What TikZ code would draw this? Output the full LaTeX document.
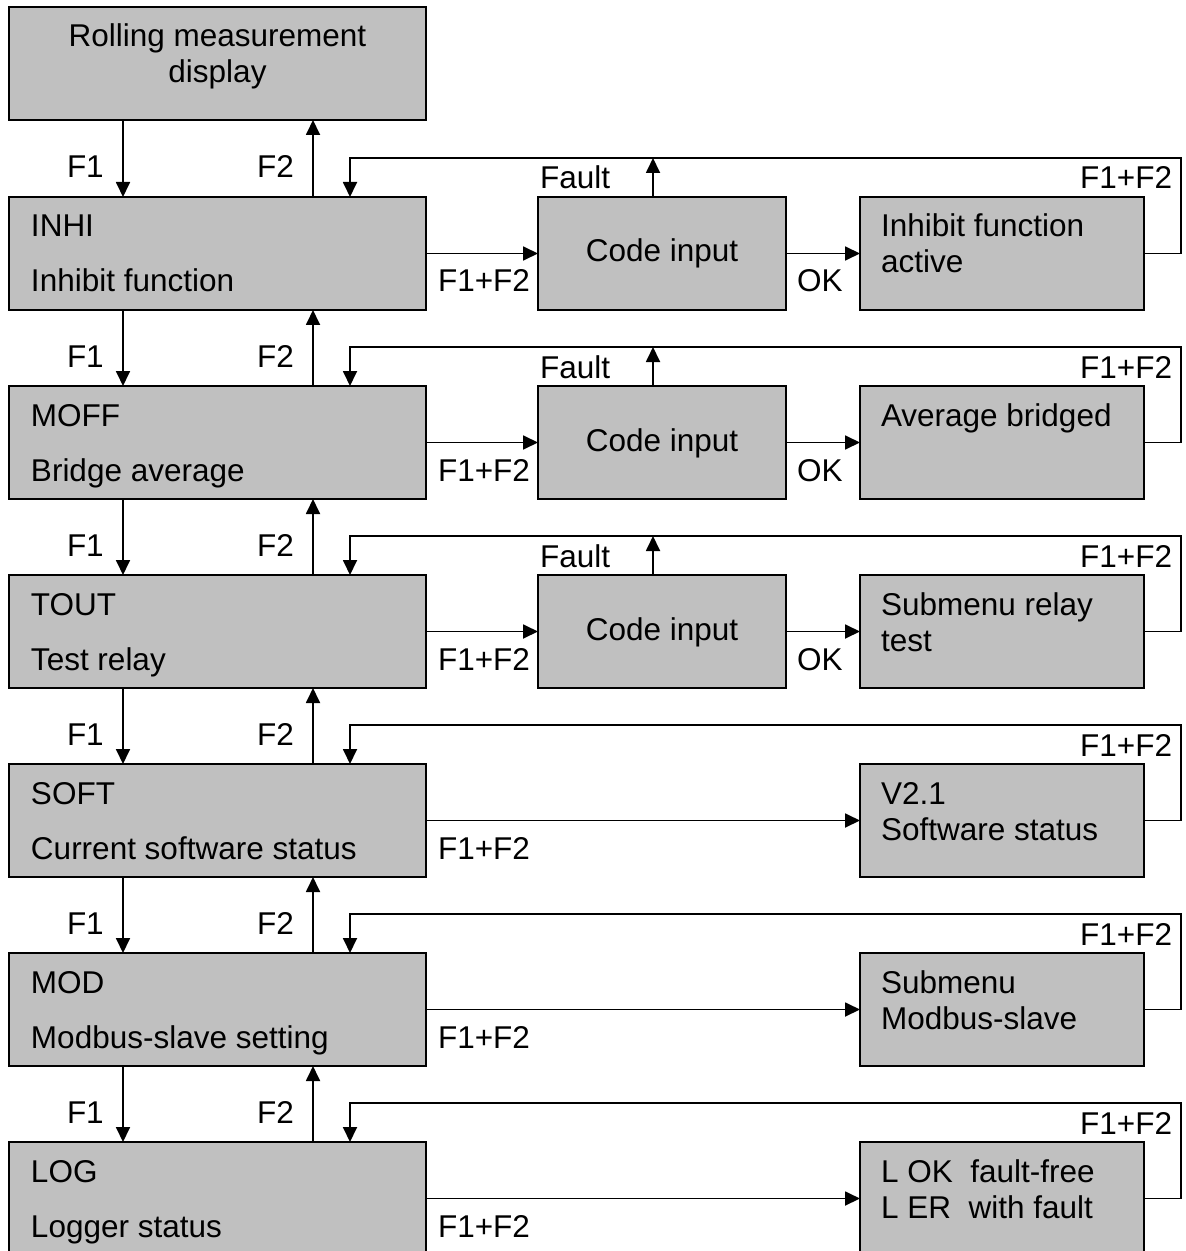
\documentclass[tikz,border=0pt]{standalone}
\usepackage{fontspec}
\setmainfont{Liberation Sans}
\usetikzlibrary{arrows.meta,calc}
\definecolor{boxgray}{HTML}{C0C0C0}
\tikzset{
 box/.style={draw=black,line width=1.1pt,fill=boxgray,minimum height=56.5pt,inner sep=0pt,outer sep=0pt},
 txt/.style={anchor=base west,inner sep=0pt,outer sep=0pt,font=\fontsize{15.75}{18}\selectfont},
 arr/.style={line width=0.9pt,-{Triangle[length=7.5pt,width=7pt]}},
}
\newcommand\MyMainBox[5]{% name, top y, previous box, line 1, line 2
 \node[box,minimum width=208.5pt,anchor=north west] (#1) at (9,#2) {};
 \node[txt] (#1a) at ($(#1.north west)+(22,40)$) {#4};
 \node[txt] (#1b) at ($(#1.north west)+(22,95)$) {#5};
 \draw[arr] ($(#3.south west)+(114,0)$) -- ($(#1.north west)+(114,0)$);
 \draw[arr] ($(#1.north west)+(304,0)$) -- ($(#3.south west)+(304,0)$);
 \node[txt] (#1fone) at ($(#1.north west)+(58,-19)$) {F1};
 \node[txt] (#1ftwo) at ($(#1.north west)+(248,-19)$) {F2};
}
\newcommand\MyRightBox[4]{% name, main box, line 1, line 2
 \node[box,minimum width=142pt,anchor=north west] (#1) at ($(#2.north west)+(851,0)$) {};
 \node[txt] (#1a) at ($(#1.north west)+(21,40)$) {#3};
 \node[txt] (#1b) at ($(#1.north west)+(21,76)$) {#4};
 \draw[arr] (#1.east) -- ++(37,0) |- ($(#2.north west)+(341,-39)$) -- ($(#2.north west)+(341,0)$);
 \node[txt,anchor=base east] (#1k) at ($(#1.north east)+(28,-8)$) {F1+F2};
}
\newcommand\MyCodeBox[3]{% name, main box, right box
 \node[box,minimum width=124pt,anchor=north west] (#1) at ($(#2.north west)+(529,0)$) {};
 \node[txt,anchor=base] (#1t) at ($(#1.north)+(0,65)$) {Code input};
 \draw[arr] (#2.east) -- (#1.west);
 \draw[arr] (#1.east) -- (#3.west);
 \draw[arr] ($(#1.north west)+(115,0)$) -- ++(0,-39);
 \node[txt] (#1fa) at ($(#1.north west)+(2,-8)$) {Fault};
 \node[txt] (#1ff) at ($(#2.north east)+(12,95)$) {F1+F2};
 \node[txt] (#1ok) at ($(#1.north east)+(11,95)$) {OK};
}
\newcommand\MyDirect[2]{% main box, right box
 \draw[arr] (#1.east) -- (#2.west);
 \node[txt] (#1ff) at ($(#1.north east)+(12,95)$) {F1+F2};
}
\begin{document}
\begin{tikzpicture}[x=0.5pt,y=-0.5pt]
\useasboundingbox (0,0) rectangle (1185,1251);
\clip (0,0) rectangle (1185,1251);
\node[box,minimum width=208.5pt,anchor=north west] (top) at (9,7) {};
\node[txt,anchor=base] (topa) at ($(top.north)+(0,40)$) {Rolling measurement};
\node[txt,anchor=base] (topb) at ($(top.north)+(0,76)$) {display};
% row 1
\MyMainBox{ma}{197}{top}{INHI}{Inhibit function}
\MyRightBox{ra}{ma}{Inhibit function}{active}
\MyCodeBox{ca}{ma}{ra}
% row 2
\MyMainBox{mb}{386}{ma}{MOFF}{Bridge average}
\MyRightBox{rb}{mb}{Average bridged}{}
\MyCodeBox{cb}{mb}{rb}
% row 3
\MyMainBox{mc}{575}{mb}{TOUT}{Test relay}
\MyRightBox{rc}{mc}{Submenu relay}{test}
\MyCodeBox{cc}{mc}{rc}
% row 4
\MyMainBox{md}{764}{mc}{SOFT}{Current software status}
\MyRightBox{rd}{md}{V2.1}{Software status}
\MyDirect{md}{rd}
% row 5
\MyMainBox{me}{953}{md}{MOD}{Modbus-slave setting}
\MyRightBox{re}{me}{Submenu}{Modbus-slave}
\MyDirect{me}{re}
% row 6
\MyMainBox{mf}{1142}{me}{LOG}{Logger status}
\MyRightBox{rf}{mf}{L OK\ \ fault-free}{L ER\ \ with fault}
\MyDirect{mf}{rf}
\end{tikzpicture}
\end{document}
